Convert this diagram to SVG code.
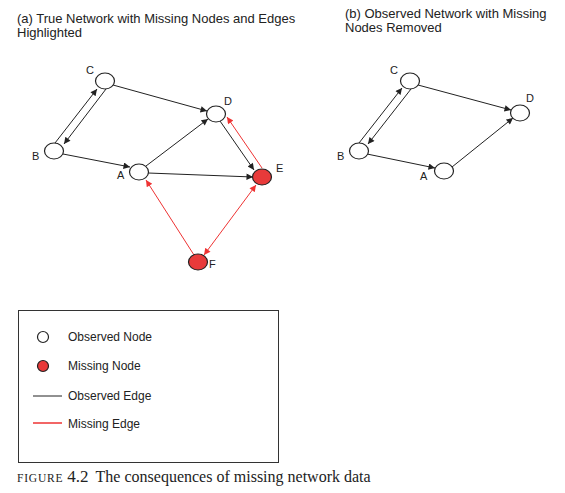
<svg xmlns="http://www.w3.org/2000/svg" width="565" height="493" viewBox="0 0 565 493">
<defs>
<marker id="ab" viewBox="0 0 10 10" refX="10" refY="5" markerWidth="9" markerHeight="6.5" markerUnits="userSpaceOnUse" orient="auto-start-reverse"><path d="M0,0 L10,5 L0,10 Z" fill="#222"/></marker>
<marker id="ar" viewBox="0 0 10 10" refX="10" refY="5" markerWidth="9" markerHeight="6.5" markerUnits="userSpaceOnUse" orient="auto-start-reverse"><path d="M0,0 L10,5 L0,10 Z" fill="#ee3333"/></marker>
</defs>
<style>
.t{font-family:"Liberation Sans",Arial,sans-serif;font-size:13px;fill:#222}
.l{font-family:"Liberation Sans",Arial,sans-serif;font-size:11px;fill:#222}
.lg{font-family:"Liberation Sans",Arial,sans-serif;font-size:12px;fill:#222}
.n{fill:#fff;stroke:#222;stroke-width:1.2}
.m{fill:#e83a3a;stroke:#222;stroke-width:1.2}
.e{stroke:#222;stroke-width:1;fill:none;marker-end:url(#ab)}
.r{stroke:#ee3333;stroke-width:1;fill:none;marker-end:url(#ar)}
.cap{font-family:"Liberation Serif","Times New Roman",serif;fill:#222}
</style>
<rect width="565" height="493" fill="#fff"/>
<text class="t" x="17" y="23">(a) True Network with Missing Nodes and Edges</text>
<text class="t" x="17" y="37">Highlighted</text>
<text class="t" x="345" y="18">(b) Observed Network with Missing</text>
<text class="t" x="345" y="32">Nodes Removed</text>
<g id="connectors">
<line class="e" x1="113" y1="85" x2="207" y2="111"/>
<line class="e" x1="55" y1="143" x2="97" y2="89"/>
<line class="e" x1="106" y1="89" x2="64" y2="144"/>
<line class="e" x1="63" y1="154" x2="130" y2="167"/>
<line class="e" x1="146" y1="166" x2="208" y2="119"/>
<line class="e" x1="220" y1="121" x2="254" y2="170"/>
<line class="r" x1="262" y1="168" x2="227" y2="117"/>
<line class="e" x1="148" y1="173" x2="253" y2="177"/>
<line class="r" x1="194" y1="255" x2="146" y2="180"/>
<line class="r" x1="256" y1="185" x2="204" y2="255" style="marker-start:url(#ar)"/>
<line class="e" x1="418" y1="85" x2="511" y2="110"/>
<line class="e" x1="359" y1="143" x2="402" y2="88"/>
<line class="e" x1="411" y1="89" x2="368" y2="144"/>
<line class="e" x1="367" y1="154" x2="435" y2="168"/>
<line class="e" x1="452" y1="167" x2="513" y2="118"/>
</g>
<g id="a-C"><ellipse class="n" cx="105" cy="81" rx="9.5" ry="8"/><text class="l" x="86" y="74">C</text></g>
<g id="a-D"><ellipse class="n" cx="216" cy="114" rx="9.5" ry="8"/><text class="l" x="224" y="105">D</text></g>
<g id="a-B"><ellipse class="n" cx="54" cy="151" rx="9.5" ry="8"/><text class="l" x="32" y="160">B</text></g>
<g id="a-A"><ellipse class="n" cx="139" cy="172" rx="9.5" ry="8"/><text class="l" x="117" y="179">A</text></g>
<g id="a-E"><ellipse class="m" cx="262" cy="177" rx="9.5" ry="8"/><text class="l" x="276" y="172">E</text></g>
<g id="a-F"><ellipse class="m" cx="198" cy="262" rx="9.5" ry="8"/><text class="l" x="209" y="268">F</text></g>
<g id="b-C"><ellipse class="n" cx="410" cy="81" rx="9.5" ry="8"/><text class="l" x="390" y="74">C</text></g>
<g id="b-D"><ellipse class="n" cx="520" cy="113" rx="9.5" ry="8"/><text class="l" x="526" y="102">D</text></g>
<g id="b-B"><ellipse class="n" cx="359" cy="151" rx="9.5" ry="8"/><text class="l" x="337" y="160">B</text></g>
<g id="b-A"><ellipse class="n" cx="444" cy="171" rx="9.5" ry="8"/><text class="l" x="420" y="180">A</text></g>
<g id="legend">
<rect x="18.5" y="310.5" width="260" height="152" fill="none" stroke="#333" stroke-width="1"/>
<circle class="n" cx="43" cy="337" r="5.5"/>
<text class="lg" x="68" y="341">Observed Node</text>
<circle class="m" cx="43" cy="366" r="5.5"/>
<text class="lg" x="68" y="370">Missing Node</text>
<line x1="33" y1="396" x2="62" y2="396" stroke="#222" stroke-width="1"/>
<text class="lg" x="68" y="400">Observed Edge</text>
<line x1="33" y1="423" x2="62" y2="423" stroke="#ee3333" stroke-width="1.5"/>
<text class="lg" x="68" y="428">Missing Edge</text>
</g>
<text class="cap" x="17" y="482"><tspan font-size="11.5" letter-spacing="0.8">FIGURE</tspan><tspan font-size="17" dx="4">4.2</tspan><tspan font-size="16" dx="7">The consequences of missing network data</tspan></text>
</svg>
